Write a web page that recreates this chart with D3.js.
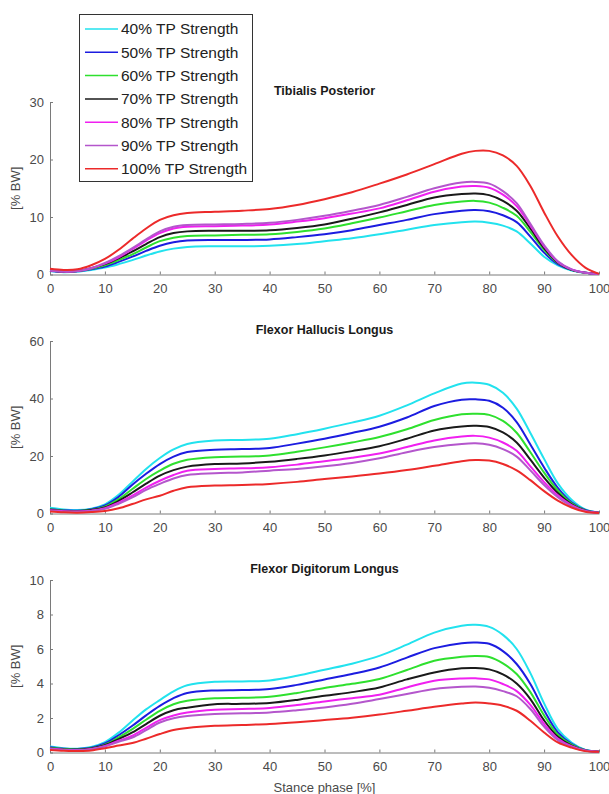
<!DOCTYPE html>
<html>
<head>
<meta charset="utf-8">
<script src="https://cdn.jsdelivr.net/npm/d3@7"></script>
<style>
    body { margin: 0; background: #fff; }
    svg text { font-family: "Liberation Sans", Arial, Helvetica, sans-serif; }
</style>
</head>
<body>
<div id="chart"></div>
<script>
/*global d3*/

// stance phase samples [%]
let stance = [0, 2.5, 5, 7.5, 10, 12.5, 15, 17.5, 20, 22.5, 25, 30, 35, 40, 45, 50,
    55, 60, 65, 70, 75, 77.5, 80, 82.5, 85, 87.5, 90, 92.5, 95, 97.5, 100];

let strengthLabels = ['40% TP Strength', '50% TP Strength', '60% TP Strength',
    '70% TP Strength', '80% TP Strength', '90% TP Strength', '100% TP Strength'];
let strengthColors = ['#22e2ee', '#1c1ce0', '#2ee02e', '#1a1a1a', '#f020f0', '#b456cc', '#ec2a2a'];

let muscleTitles = ['Tibialis Posterior', 'Flexor Hallucis Longus', 'Flexor Digitorum Longus'];
let yMaxima = [30, 60, 10];
let yTickValues = [[0, 10, 20, 30], [0, 20, 40, 60], [0, 2, 4, 6, 8, 10]];
let xTickValues = [0, 10, 20, 30, 40, 50, 60, 70, 80, 90, 100];

// [% BW], one row per TP strength (40% .. 100%)
let tibialisPosterior = [
    [0.6, 0.4, 0.5, 0.8, 1.2, 1.8, 2.5, 3.3, 4.0, 4.5, 4.8, 4.9, 4.9, 5.0, 5.3, 5.8, 6.3, 7.0, 7.8, 8.6, 9.1, 9.2, 9.0, 8.5, 7.5, 5.4, 3.1, 1.6, 0.7, 0.3, 0.1],
    [0.6, 0.45, 0.55, 0.9, 1.4, 2.2, 3.1, 4.1, 5.0, 5.6, 5.9, 6.0, 6.0, 6.1, 6.5, 7.0, 7.7, 8.6, 9.5, 10.5, 11.1, 11.2, 11.0, 10.3, 9.1, 6.6, 3.8, 1.8, 0.8, 0.3, 0.1],
    [0.7, 0.5, 0.6, 1.0, 1.6, 2.5, 3.5, 4.7, 5.8, 6.4, 6.7, 6.8, 6.9, 7.0, 7.4, 8.0, 8.9, 9.9, 11.0, 12.1, 12.7, 12.8, 12.5, 11.6, 10.2, 7.4, 4.3, 2.0, 0.8, 0.3, 0.1],
    [0.7, 0.5, 0.6, 1.1, 1.8, 2.8, 4.0, 5.3, 6.5, 7.2, 7.5, 7.6, 7.6, 7.7, 8.1, 8.7, 9.7, 10.8, 12.1, 13.4, 14.0, 14.1, 13.8, 12.8, 11.1, 8.0, 4.6, 2.1, 0.8, 0.3, 0.1],
    [0.7, 0.5, 0.6, 1.1, 1.9, 3.0, 4.4, 5.9, 7.2, 8.0, 8.3, 8.4, 8.5, 8.7, 9.2, 9.8, 10.6, 11.5, 12.9, 14.4, 15.3, 15.4, 15.1, 13.9, 11.9, 8.5, 4.9, 2.2, 0.9, 0.3, 0.1],
    [0.7, 0.5, 0.6, 1.1, 2.0, 3.2, 4.6, 6.1, 7.5, 8.3, 8.6, 8.7, 8.8, 9.0, 9.5, 10.2, 11.1, 12.1, 13.5, 15.0, 16.0, 16.1, 15.8, 14.5, 12.4, 8.8, 5.1, 2.3, 0.9, 0.3, 0.1],
    [1.0, 0.8, 0.9, 1.6, 2.7, 4.3, 6.2, 8.0, 9.5, 10.3, 10.7, 10.9, 11.1, 11.4, 12.1, 13.1, 14.3, 15.8, 17.4, 19.2, 21.0, 21.5, 21.5, 20.7, 18.9, 15.4, 10.8, 6.6, 3.4, 1.2, 0.1]
];

let flexorHallucisLongus = [
    [2.0, 1.4, 1.2, 1.7, 3.2, 6.5, 11.0, 15.5, 19.3, 22.3, 24.2, 25.4, 25.6, 26.0, 27.6, 29.5, 31.6, 34.0, 37.6, 41.8, 45.2, 45.5, 44.8, 42.0, 36.5, 28.0, 19.0, 10.5, 4.8, 1.4, 0.3],
    [1.6, 1.1, 1.0, 1.5, 2.8, 5.8, 10.0, 13.8, 17.2, 19.8, 21.4, 22.2, 22.4, 22.8, 24.3, 26.0, 28.0, 30.2, 33.4, 37.4, 39.6, 39.7, 39.2, 36.8, 31.8, 24.0, 16.0, 8.9, 3.9, 1.2, 0.3],
    [1.5, 1.0, 0.9, 1.3, 2.4, 5.0, 8.5, 12.0, 14.9, 17.3, 18.7, 19.6, 19.8, 20.2, 21.5, 23.0, 24.7, 26.6, 29.3, 32.5, 34.5, 34.7, 34.3, 32.2, 28.1, 21.3, 14.2, 8.0, 3.5, 1.1, 0.3],
    [1.3, 0.9, 0.8, 1.2, 2.1, 4.4, 7.3, 10.4, 13.2, 15.1, 16.3, 17.2, 17.4, 18.0, 19.0, 20.2, 21.7, 23.4, 26.0, 28.9, 30.3, 30.5, 30.1, 28.2, 24.7, 18.7, 12.5, 7.1, 3.2, 1.0, 0.3],
    [1.1, 0.8, 0.7, 1.0, 1.8, 3.8, 6.2, 9.0, 11.4, 13.4, 14.9, 15.5, 15.7, 16.1, 17.0, 18.2, 19.4, 20.9, 23.1, 25.4, 26.8, 27.0, 26.4, 24.7, 21.8, 16.4, 10.9, 6.3, 2.9, 0.9, 0.3],
    [1.0, 0.7, 0.6, 0.9, 1.6, 3.4, 5.6, 8.2, 10.3, 12.2, 13.4, 14.0, 14.3, 14.9, 15.5, 16.4, 17.6, 19.2, 21.3, 23.1, 24.2, 24.4, 23.9, 22.4, 19.8, 15.0, 9.9, 5.7, 2.6, 0.8, 0.3],
    [0.7, 0.4, 0.3, 0.5, 0.9, 1.8, 3.3, 4.9, 6.2, 7.9, 9.1, 9.7, 9.9, 10.3, 11.0, 12.0, 12.9, 13.9, 15.1, 16.6, 18.2, 18.6, 18.4, 17.2, 15.0, 11.6, 7.8, 4.5, 2.1, 0.6, 0.2]
];

let flexorDigitorumLongus = [
    [0.35, 0.25, 0.22, 0.32, 0.6, 1.15, 1.84, 2.5, 3.04, 3.55, 3.9, 4.1, 4.12, 4.18, 4.45, 4.8, 5.15, 5.6, 6.25, 6.95, 7.35, 7.4, 7.28, 6.82, 6.0, 4.6, 2.85, 1.36, 0.58, 0.15, 0.05],
    [0.3, 0.22, 0.2, 0.28, 0.52, 1.0, 1.55, 2.15, 2.7, 3.15, 3.45, 3.6, 3.62, 3.68, 3.92, 4.23, 4.55, 4.93, 5.5, 6.05, 6.34, 6.38, 6.3, 5.88, 5.13, 3.97, 2.45, 1.16, 0.5, 0.14, 0.05],
    [0.27, 0.2, 0.18, 0.25, 0.46, 0.88, 1.36, 1.9, 2.42, 2.8, 3.0, 3.15, 3.17, 3.23, 3.45, 3.74, 3.98, 4.26, 4.78, 5.32, 5.55, 5.6, 5.54, 5.17, 4.55, 3.5, 2.15, 1.03, 0.45, 0.13, 0.05],
    [0.25, 0.18, 0.16, 0.23, 0.42, 0.78, 1.16, 1.65, 2.13, 2.45, 2.6, 2.8, 2.82, 2.87, 3.05, 3.29, 3.5, 3.77, 4.24, 4.64, 4.88, 4.9, 4.82, 4.53, 4.0, 3.1, 1.86, 0.91, 0.4, 0.12, 0.05],
    [0.23, 0.16, 0.14, 0.2, 0.38, 0.68, 0.97, 1.43, 1.88, 2.15, 2.32, 2.48, 2.52, 2.58, 2.75, 2.96, 3.15, 3.35, 3.77, 4.16, 4.29, 4.3, 4.24, 3.97, 3.56, 2.76, 1.66, 0.81, 0.36, 0.11, 0.05],
    [0.22, 0.15, 0.13, 0.19, 0.35, 0.62, 0.87, 1.3, 1.74, 1.98, 2.11, 2.23, 2.27, 2.32, 2.45, 2.61, 2.82, 3.1, 3.39, 3.68, 3.81, 3.83, 3.76, 3.56, 3.26, 2.52, 1.5, 0.72, 0.33, 0.1, 0.05],
    [0.15, 0.1, 0.09, 0.12, 0.25, 0.4, 0.55, 0.8, 1.07, 1.3, 1.42, 1.55, 1.6, 1.65, 1.75, 1.88, 2.02, 2.2, 2.42, 2.65, 2.84, 2.9, 2.84, 2.71, 2.42, 1.84, 1.16, 0.58, 0.28, 0.08, 0.04]
];

let muscleData = [tibialisPosterior, flexorHallucisLongus, flexorDigitorumLongus];

let width = 609,
    height = 794,
    plot = {
        left: 50,
        right: 599,
        top: 102,
        height: 172.5,
        step: 239
    };

let svg = d3.select('#chart').append('svg')
    .attr('width', width)
    .attr('height', height);

let x = d3.scaleLinear()
    .domain([0, 100])
    .range([plot.left, plot.right]);

function styleAxis(g) {
    g.selectAll('path.domain').attr('stroke', '#7a7a7a');
    g.selectAll('.tick line').attr('stroke', '#7a7a7a');
    g.selectAll('.tick text')
        .attr('fill', '#4a4a4a')
        .style('font-size', '13px')
        .style('font-family', '"Liberation Sans", Arial, sans-serif');
}

muscleData.forEach(function(series, p) {
    let top = plot.top + p * plot.step,
        bottom = top + plot.height;

    let y = d3.scaleLinear()
        .domain([0, yMaxima[p]])
        .range([bottom, top]);

    // axes, MATLAB style: ticks point inside
    let gx = svg.append('g')
        .attr('transform', 'translate(0,' + bottom + ')')
        .call(d3.axisBottom(x).tickValues(xTickValues)
            .tickSizeInner(-3).tickSizeOuter(0).tickPadding(9));
    styleAxis(gx);

    let gy = svg.append('g')
        .attr('transform', 'translate(' + plot.left + ',0)')
        .call(d3.axisLeft(y).tickValues(yTickValues[p])
            .tickSizeInner(-3).tickSizeOuter(0).tickPadding(6));
    styleAxis(gy);

    // title
    svg.append('text')
        .attr('x', (plot.left + plot.right) / 2)
        .attr('y', top - 7)
        .attr('text-anchor', 'middle')
        .attr('fill', '#1a1a1a')
        .style('font-size', '12.5px')
        .style('font-weight', 'bold')
        .text(muscleTitles[p]);

    // y label
    svg.append('text')
        .attr('transform', 'translate(20,' + (top + plot.height / 2) + ') rotate(-90)')
        .attr('text-anchor', 'middle')
        .attr('fill', '#4a4a4a')
        .style('font-size', '13px')
        .text('[% BW]');

    let line = d3.line()
        .x(function(d, i) { return x(stance[i]); })
        .y(function(d) { return y(Math.max(d, 0)); })
        .curve(d3.curveCatmullRom.alpha(0.5));

    svg.append('g').selectAll('path')
        .data(series)
        .enter().append('path')
        .attr('fill', 'none')
        .attr('stroke', function(d, i) { return strengthColors[i]; })
        .attr('stroke-width', 2)
        .attr('stroke-linejoin', 'round')
        .attr('d', line);
});

// x label under the last panel
svg.append('text')
    .attr('x', (plot.left + plot.right) / 2)
    .attr('y', plot.top + 2 * plot.step + plot.height + 39)
    .attr('text-anchor', 'middle')
    .attr('fill', '#4a4a4a')
    .style('font-size', '13px')
    .text('Stance phase [%]');

// legend
let legend = svg.append('g');

legend.append('rect')
    .attr('x', 79.5)
    .attr('y', 14.5)
    .attr('width', 173)
    .attr('height', 167)
    .attr('fill', '#fff')
    .attr('stroke', '#333');

let entry = legend.selectAll('.entry')
    .data(strengthLabels)
    .enter().append('g')
    .attr('class', 'entry')
    .attr('transform', function(d, i) {
        return 'translate(0,' + (29 + i * 23.3) + ')';
    });

entry.append('line')
    .attr('x1', 85)
    .attr('x2', 118)
    .attr('stroke', function(d, i) { return strengthColors[i]; })
    .attr('stroke-width', 1.5);

entry.append('text')
    .attr('x', 121)
    .attr('dy', '0.35em')
    .attr('fill', '#222')
    .style('font-size', '15.5px')
    .text(function(d) { return d; });
</script>
</body>
</html>
